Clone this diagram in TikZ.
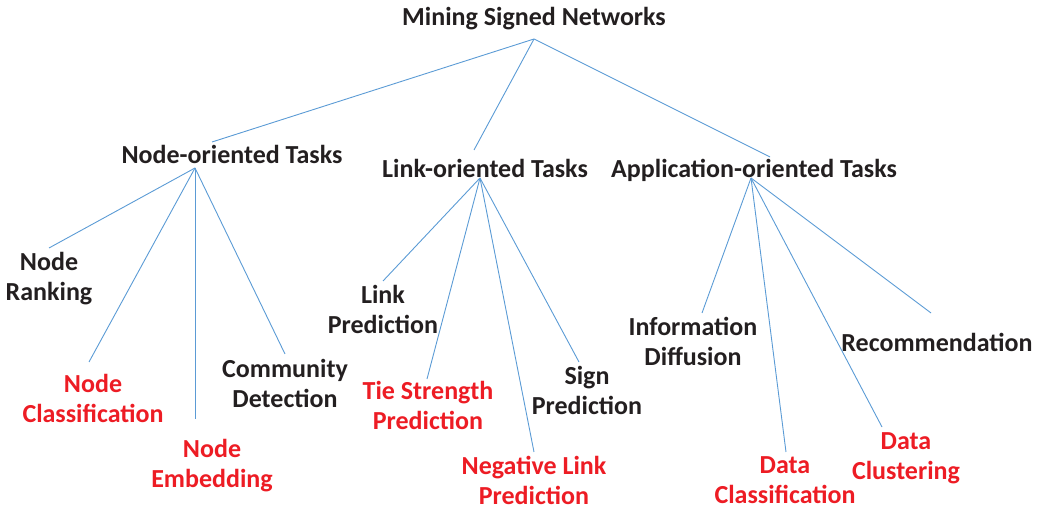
\documentclass[tikz,border=0pt]{standalone}
\usepackage{fontspec}
\setmainfont{Carlito}
\definecolor{lineblue}{RGB}{91,155,213}
\definecolor{txtblack}{RGB}{35,31,32}
\definecolor{txtred}{RGB}{237,28,36}
\begin{document}
\begin{tikzpicture}[x=1pt,y=-1pt,
  lbl/.style={inner sep=0pt, align=center, anchor=base, text=txtblack,
    font=\fontsize{26}{30}\selectfont\bfseries},
  redlbl/.style={lbl, text=txtred},
  link/.style={draw=lineblue, line width=0.9pt}]
\useasboundingbox (0,0) rectangle (1045,510);

\node[lbl] (ms) at (534,26) {Mining Signed Networks};
\node[lbl] (nt) at (232,164) {Node-oriented Tasks};
\node[lbl] (lt) at (485,178) {Link-oriented Tasks};
\node[lbl] (at) at (754,178) {Application-oriented Tasks};

\node[lbl] (nr) at (49,301) {Node\\Ranking};
\node[redlbl] (nc) at (93,423) {Node\\Classification};
\node[redlbl] (ne) at (212,488) {Node\\Embedding};
\node[lbl] (cd) at (285,408) {Community\\Detection};

\node[lbl] (lp) at (383,334) {Link\\Prediction};
\node[redlbl] (ts) at (428,430) {Tie Strength\\Prediction};
\node[redlbl] (nl) at (534,505) {Negative Link\\Prediction};
\node[lbl] (sp) at (587,415) {Sign\\Prediction};

\node[lbl] (id) at (693,366) {Information\\Diffusion};
\node[redlbl] (dc) at (785,504) {Data\\Classification};
\node[redlbl] (dl) at (906,480) {Data\\Clustering};
\node[lbl] (rc) at (937,352) {Recommendation};

\draw[link] ([shift={(0,13)}]ms.base) -- ([shift={(-20,-22)}]nt.base);
\draw[link] ([shift={(0,13)}]ms.base) -- ([shift={(-11,-28)}]lt.base);
\draw[link] ([shift={(0,13)}]ms.base) -- ([shift={(16,-21)}]at.base);

\draw[link] ([shift={(-37,4)}]nt.base) -- ([shift={(0,-53)}]nr.base);
\draw[link] ([shift={(-37,4)}]nt.base) -- ([shift={(-4,-61)}]nc.base);
\draw[link] ([shift={(-37,4)}]nt.base) -- ([shift={(-17,-69)}]ne.base);
\draw[link] ([shift={(-37,4)}]nt.base) -- ([shift={(0,-54)}]cd.base);

\draw[link] ([shift={(-5,0)}]lt.base) -- ([shift={(0,-53)}]lp.base);
\draw[link] ([shift={(-5,0)}]lt.base) -- ([shift={(-1,-51)}]ts.base);
\draw[link] ([shift={(-5,0)}]lt.base) -- ([shift={(0,-53)}]nl.base);
\draw[link] ([shift={(-5,0)}]lt.base) -- ([shift={(-8,-53)}]sp.base);

\draw[link] ([shift={(-3,0)}]at.base) -- ([shift={(9,-53)}]id.base);
\draw[link] ([shift={(-3,0)}]at.base) -- ([shift={(1,-52)}]dc.base);
\draw[link] ([shift={(-3,0)}]at.base) -- ([shift={(-24,-53)}]dl.base);
\draw[link] ([shift={(-3,0)}]at.base) -- ([shift={(-6,-39)}]rc.base);
\end{tikzpicture}
\end{document}
